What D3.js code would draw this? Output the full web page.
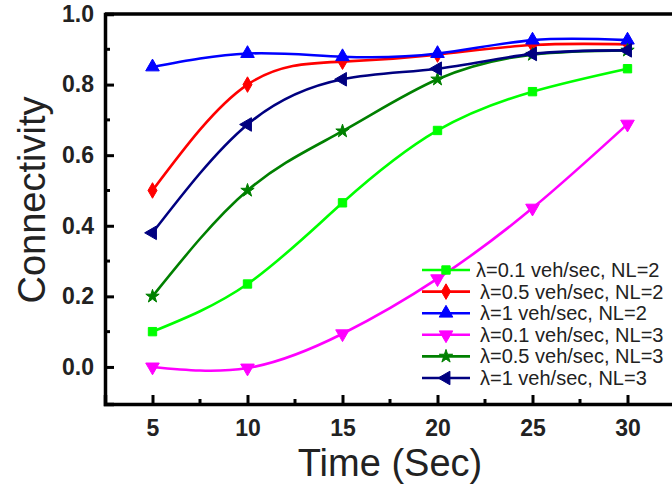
<!DOCTYPE html>
<html>
<head>
<meta charset="utf-8">
<script src="https://cdn.jsdelivr.net/npm/d3@7/dist/d3.min.js"></script>
<style>
  html, body { margin: 0; padding: 0; background: #fff; }
  svg { display: block; font-family: "Liberation Sans", Arial, sans-serif; }
</style>
</head>
<body>
<svg id="chart" width="672" height="488"></svg>
<script>
// ---- data ----
const times = [5, 10, 15, 20, 25, 30];
const seriesNames = [
  "λ=0.1 veh/sec, NL=2",
  "λ=0.5 veh/sec, NL=2",
  "λ=1 veh/sec, NL=2",
  "λ=0.1 veh/sec, NL=3",
  "λ=0.5 veh/sec, NL=3",
  "λ=1 veh/sec, NL=3"
];
const l01nl2 = [0.10, 0.235, 0.465, 0.67, 0.78, 0.845];
const l05nl2 = [0.50, 0.80, 0.865, 0.885, 0.912, 0.914];
const l1nl2  = [0.85, 0.888, 0.879, 0.888, 0.926, 0.926];
const l01nl3 = [0.00, -0.003, 0.094, 0.25, 0.45, 0.688];
const l05nl3 = [0.20, 0.50, 0.668, 0.815, 0.885, 0.897];
const l1nl3  = [0.38, 0.687, 0.815, 0.845, 0.887, 0.897];
const xTicks = [5, 10, 15, 20, 25, 30];
const yTicks = [0.0, 0.2, 0.4, 0.6, 0.8, 1.0];
const xLabel = "Time (Sec)";
const yLabel = "Connectivity";

const seriesValues = [l01nl2, l05nl2, l1nl2, l01nl3, l05nl3, l1nl3];
const colors = ["#00ff00", "#ff0000", "#0000ff", "#ff00ff", "#008000", "#000080"];
const symbols = [
  { type: d3.symbolSquare, size: 70, rot: 0 },
  { type: d3.symbolDiamond, size: 70, rot: 0 },
  { type: d3.symbolTriangle, size: 80, rot: 0 },
  { type: d3.symbolTriangle, size: 80, rot: 180 },
  { type: d3.symbolStar, size: 55, rot: 0 },
  { type: d3.symbolTriangle, size: 80, rot: -90 }
];

const svg = d3.select("#chart");
const pLeft = 105, pRight = 675, pTop = 14, pBottom = 404;

const x = d3.scaleLinear().domain([2.5, 32.5]).range([pLeft, pRight]);
const y = d3.scaleLinear().domain([-0.105, 1.0]).range([pBottom, pTop]);

// frame (top + right)
svg.append("path")
  .attr("d", `M${pLeft},${pTop}H${pRight}V${pBottom}`)
  .attr("fill", "none").attr("stroke", "#000").attr("stroke-width", 3.5);

// minor ticks
const xMinor = [7.5, 12.5, 17.5, 22.5, 27.5];
const yMinor = [0.1, 0.3, 0.5, 0.7, 0.9];
svg.append("g").selectAll("line").data(xMinor).join("line")
  .attr("x1", d => x(d)).attr("x2", d => x(d))
  .attr("y1", pBottom).attr("y2", pBottom - 5)
  .attr("stroke", "#000").attr("stroke-width", 3);
svg.append("g").selectAll("line").data(yMinor).join("line")
  .attr("y1", d => y(d)).attr("y2", d => y(d))
  .attr("x1", pLeft).attr("x2", pLeft + 5)
  .attr("stroke", "#000").attr("stroke-width", 3);

// x axis
const gx = svg.append("g").attr("transform", `translate(0,${pBottom})`)
  .call(d3.axisBottom(x).tickValues(xTicks).tickSize(-9).tickPadding(16).tickFormat(d3.format("d")));
gx.select(".domain").attr("stroke-width", 3.5);
gx.selectAll(".tick line").attr("stroke-width", 3);
gx.selectAll(".tick text").attr("font-size", 23).attr("font-weight", "bold")
  .attr("font-family", "Liberation Sans, Arial, sans-serif").attr("fill", "#222");

// y axis
const gy = svg.append("g").attr("transform", `translate(${pLeft},0)`)
  .call(d3.axisLeft(y).tickValues(yTicks).tickSize(-9).tickPadding(11).tickFormat(d3.format(".1f")));
gy.select(".domain").attr("stroke-width", 3.5);
gy.selectAll(".tick line").attr("stroke-width", 3);
gy.selectAll(".tick text").attr("font-size", 23).attr("font-weight", "bold")
  .attr("font-family", "Liberation Sans, Arial, sans-serif").attr("fill", "#222");

// axis titles
svg.append("text").attr("x", (pLeft + pRight) / 2).attr("y", 476)
  .attr("text-anchor", "middle").attr("font-size", 38).attr("fill", "#222").text(xLabel);
svg.append("text").attr("transform", `translate(45,200) rotate(-90)`)
  .attr("text-anchor", "middle").attr("font-size", 38).attr("fill", "#222").text(yLabel);

// series
const line = d3.line().x(d => x(d[0])).y(d => y(d[1])).curve(d3.curveNatural);
const plot = svg.append("g");
seriesValues.forEach((vals, i) => {
  const pts = times.map((t, j) => [t, vals[j]]);
  plot.append("path").datum(pts).attr("d", line)
    .attr("fill", "none").attr("stroke", colors[i]).attr("stroke-width", 2.6);
  const sym = d3.symbol().type(symbols[i].type).size(symbols[i].size);
  plot.append("g").selectAll("path").data(pts).join("path")
    .attr("d", sym)
    .attr("transform", d => `translate(${x(d[0])},${y(d[1])}) rotate(${symbols[i].rot})`)
    .attr("fill", colors[i]).attr("stroke", colors[i]).attr("stroke-width", 1);
});

// legend
const legend = svg.append("g");
seriesNames.forEach((name, i) => {
  const ly = 270 + i * 21.6;
  legend.append("line").attr("x1", 422).attr("x2", 470).attr("y1", ly).attr("y2", ly)
    .attr("stroke", colors[i]).attr("stroke-width", 2.6);
  const sym = d3.symbol().type(symbols[i].type).size(symbols[i].size);
  legend.append("path").attr("d", sym)
    .attr("transform", `translate(446,${ly}) rotate(${symbols[i].rot})`)
    .attr("fill", colors[i]).attr("stroke", colors[i]).attr("stroke-width", 1);
  legend.append("text").attr("x", i === 0 ? 476 : 480).attr("y", ly + 7)
    .attr("font-size", 20).attr("fill", "#222").text(name);
});
</script>
</body>
</html>
